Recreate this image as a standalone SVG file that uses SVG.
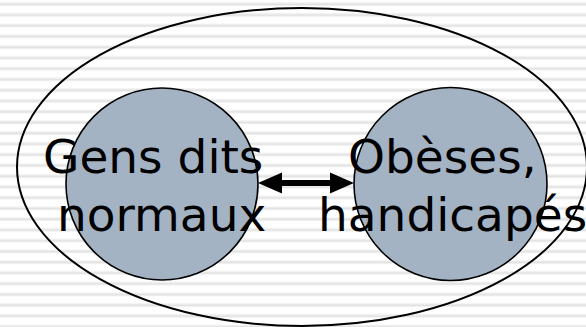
<svg xmlns="http://www.w3.org/2000/svg" width="586" height="327" viewBox="0 0 586 327">
  <defs>
    <!-- faint horizontal ruled background -->
    <pattern id="rules" x="0" y="0" width="586" height="10.75" patternUnits="userSpaceOnUse">
      <rect x="0" y="2.4" width="586" height="1" fill="#ececec"/>
      <rect x="0" y="3.4" width="586" height="1.6" fill="#e1e1e1"/>
      <rect x="0" y="5" width="586" height="1" fill="#ececec"/>
    </pattern>
    <style>
      .frame { fill: none; stroke: #000; stroke-width: 2; }
      .disc { fill: #a4b3c3; stroke: #000; stroke-width: 1.6; }
      .label { font-family: "DejaVu Sans", Verdana, sans-serif; font-size: 47px; fill: #000; }
      .link { fill: #000; stroke: none; }
    </style>
  </defs>

  <rect x="0" y="0" width="586" height="327" fill="#ffffff"/>
  <rect x="0" y="0" width="586" height="327" fill="url(#rules)"/>

  <g id="society">
    <ellipse class="frame" cx="302" cy="167" rx="285" ry="159"/>
  </g>

  <g id="normal-people">
    <circle class="disc" cx="162" cy="184" r="96"/>
    <text class="label" x="43" y="173">Gens dits</text>
    <text class="label" x="57" y="231">normaux</text>
  </g>

  <g id="obese-disabled">
    <circle class="disc" cx="450.5" cy="184" r="96.5"/>
    <text class="label" x="348" y="173">Obèses,</text>
    <text class="label" x="318" y="231">handicapés</text>
  </g>

  <g id="connectors">
    <!-- double-headed link between the two groups -->
    <polygon class="link" points="258,183 282,172.5 282,180 330,180 330,172.5 354,183 330,193.5 330,186 282,186 282,193.5"/>
  </g>
</svg>
